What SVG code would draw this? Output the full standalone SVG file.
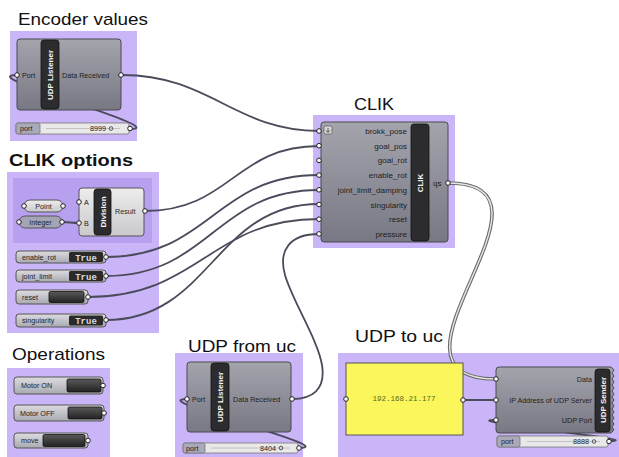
<svg xmlns="http://www.w3.org/2000/svg" width="619" height="457" viewBox="0 0 619 457">
<style>
.title{font-family:"Liberation Sans",Arial,sans-serif;font-size:17px;fill:#111}
.grp{fill:#c9b5f7}
.inner{fill:#b7a0f0}
.body{fill:url(#gBody);stroke:#4a4a52;stroke-width:1}
.lbody{fill:url(#gLight);stroke:#555;stroke-width:1}
.bar{fill:#2c2c2e;stroke:#111;stroke-width:0.8}
.bartxt{font-family:"Liberation Sans",Arial,sans-serif;font-size:8px;font-weight:bold;fill:#f2f2f2}
.lbl{font-family:"Liberation Sans",Arial,sans-serif;font-size:7.2px;fill:#1e1e1e}
.clbl{font-family:"Liberation Sans",Arial,sans-serif;font-size:8.1px;fill:#1e1e1e}
.port{fill:#fff;stroke:#222;stroke-width:1}
.wire{fill:none;stroke:#4b4b5c;stroke-width:1.8}
.dw1{fill:none;stroke:#6a6a6a;stroke-width:3.6}
.dw2{fill:none;stroke:#e6e6e6;stroke-width:1.4}
.sl{fill:#e9e9ea;stroke:#777;stroke-width:0.8}
.slp{fill:#a9a9b9;stroke:#777;stroke-width:0.8}
.tick{stroke:#b8b8b8;stroke-width:0.8}
.blk{fill:url(#gBlk);stroke:#111;stroke-width:0.8}
.mono{font-family:"Liberation Mono","Courier New",monospace;font-size:9px;font-weight:bold;fill:#d8d8d8}
</style>
<defs>
<linearGradient id="gBody" x1="0" y1="0" x2="0" y2="1"><stop offset="0" stop-color="#a4a4ad"/><stop offset="1" stop-color="#787884"/></linearGradient>
<linearGradient id="gLight" x1="0" y1="0" x2="0" y2="1"><stop offset="0" stop-color="#ededed"/><stop offset="1" stop-color="#c9c9cc"/></linearGradient>
<linearGradient id="gTog" x1="0" y1="0" x2="0" y2="1"><stop offset="0" stop-color="#dcdce0"/><stop offset="1" stop-color="#a9a9b2"/></linearGradient>
<linearGradient id="gBlk" x1="0" y1="0" x2="0" y2="1"><stop offset="0" stop-color="#5a5a5a"/><stop offset="1" stop-color="#222"/></linearGradient>
</defs>

<!-- group backgrounds and titles -->
<g id="grp-encoder">
<text class="title" x="18" y="25" textLength="130" lengthAdjust="spacingAndGlyphs">Encoder values</text>
<rect class="grp" x="10" y="31" width="127" height="110"/>
</g>
<g id="grp-clik">
<text class="title" x="354" y="110" textLength="40" lengthAdjust="spacingAndGlyphs">CLIK</text>
<rect class="grp" x="313" y="115" width="142" height="133"/>
</g>
<g id="grp-options">
<text class="title" x="9" y="166" font-weight="bold" textLength="124" lengthAdjust="spacingAndGlyphs">CLIK options</text>
<rect class="grp" x="7" y="172" width="152" height="161"/>
<rect class="inner" x="13" y="178" width="139" height="65"/>
</g>
<g id="grp-operations">
<text class="title" x="12" y="360" textLength="93" lengthAdjust="spacingAndGlyphs">Operations</text>
<rect class="grp" x="7" y="368" width="103" height="89"/>
</g>
<g id="grp-udpfrom">
<text class="title" x="188" y="352" textLength="108" lengthAdjust="spacingAndGlyphs">UDP from uc</text>
<rect class="grp" x="175" y="353" width="128" height="104"/>
</g>
<g id="grp-udpto">
<text class="title" x="355" y="342" textLength="88" lengthAdjust="spacingAndGlyphs">UDP to uc</text>
<rect class="grp" x="338" y="353" width="281" height="104"/>
</g>

<!-- connectors -->
<g id="connectors">
<path class="wire" d="M130,129 C175,129 -30,75 17,75"/>
<path class="wire" d="M299,448 C344,448 142,399 187,399"/>
<path class="wire" d="M609,441 C655,441 450,420 496,420"/>
<path class="wire" d="M122,75 C210,75 235,131 319,131"/>
<path class="wire" d="M145,211 C230,211 235,146 319,146"/>
<path class="wire" d="M106,257 C210,257 215,175 319,175"/>
<path class="wire" d="M106,276 C210,276 215,190 319,190"/>
<path class="wire" d="M88,297 C200,297 210,219 319,219"/>
<path class="wire" d="M106,320 C210,320 215,204 319,204"/>
<path class="wire" d="M319,234 C290,234 278,250 285,275 C292,300 318,340 322,365 C326,390 312,399 292,399"/>
<path class="wire" d="M62,222 C70,222 71,223 79,223"/>
<path class="wire" d="M463,400 L496,400"/>
<path class="dw1" d="M448,183 C580,183 360,379 496,379"/>
<path class="dw2" d="M448,183 C580,183 360,379 496,379"/>
</g>

<!-- Encoder UDP Listener -->
<g id="enc-listener">
<rect class="body" x="17" y="39" width="104" height="71" rx="3"/>
<rect class="bar" x="41" y="40" width="18" height="69" rx="3"/>
<text class="bartxt" transform="translate(53,75) rotate(-90)" text-anchor="middle">UDP Listener</text>
<text class="lbl" x="22" y="78">Port</text>
<text class="lbl" x="62" y="78">Data Received</text>
<circle class="port" cx="17" cy="75" r="2.3"/>
<circle class="port" cx="121" cy="75" r="2.3"/>
</g>
<g id="enc-port">
<rect class="sl" x="16" y="123" width="113" height="11" rx="2"/>
<rect class="slp" x="16" y="123" width="24" height="11" rx="2"/>
<text class="lbl" x="20" y="131">port</text>
<line class="tick" x1="46" y1="128.5" x2="120" y2="128.5"/>
<text class="lbl" x="106" y="131" text-anchor="end">8999</text>
<circle cx="111" cy="128.5" r="1.8" fill="none" stroke="#333" stroke-width="0.8"/>
<circle class="port" cx="130" cy="128.5" r="2.3"/>
</g>

<!-- CLIK -->
<g id="clik">
<rect class="body" x="321" y="122" width="127" height="120" rx="3"/>
<rect class="bar" x="411" y="124" width="18" height="117" rx="3"/>
<text class="bartxt" transform="translate(423,183) rotate(-90)" text-anchor="middle">CLIK</text>
<rect x="324" y="126" width="8" height="8" rx="1.5" fill="#d8d8dc" stroke="#555" stroke-width="0.7"/>
<path d="M328,128 L328,132 M326,130.5 L328,132.5 L330,130.5" fill="none" stroke="#333" stroke-width="0.8"/>
<g class="clbl" text-anchor="end">
<text x="407" y="134">brokk_pose</text>
<text x="407" y="148.7">goal_pos</text>
<text x="407" y="163.4">goal_rot</text>
<text x="407" y="178.1">enable_rot</text>
<text x="407" y="192.8">joint_limit_damping</text>
<text x="407" y="207.5">singularity</text>
<text x="407" y="222.2">reset</text>
<text x="407" y="236.9">pressure</text>
</g>
<text class="clbl" x="433" y="186">qs</text>
<circle class="port" cx="319" cy="131" r="2.3"/>
<circle class="port" cx="319" cy="145.7" r="2.3"/>
<circle class="port" cx="319" cy="160.4" r="2.3"/>
<circle class="port" cx="319" cy="175.1" r="2.3"/>
<circle class="port" cx="319" cy="189.8" r="2.3"/>
<circle class="port" cx="319" cy="204.5" r="2.3"/>
<circle class="port" cx="319" cy="219.2" r="2.3"/>
<circle class="port" cx="319" cy="233.9" r="2.3"/>
<circle class="port" cx="448" cy="183" r="2.3"/>
</g>

<!-- CLIK options -->
<g id="point">
<rect x="24" y="200" width="39" height="12" rx="6" fill="url(#gLight)" stroke="#555"/>
<text class="lbl" x="43.5" y="208.5" text-anchor="middle">Point</text>
<circle class="port" cx="24" cy="206" r="2.3"/>
<circle class="port" cx="63" cy="206" r="2.3"/>
</g>
<g id="integer">
<rect x="19" y="216" width="43" height="12" rx="6" fill="#a4a4b4" stroke="#555"/>
<text class="lbl" x="40.5" y="224.5" text-anchor="middle">Integer</text>
<circle class="port" cx="19" cy="222" r="2.3"/>
<circle class="port" cx="62" cy="222" r="2.3"/>
</g>
<g id="division">
<rect class="lbody" x="79" y="188" width="65" height="48" rx="3"/>
<rect class="bar" x="94" y="189" width="17" height="46" rx="3"/>
<text class="bartxt" transform="translate(105.5,212) rotate(-90)" text-anchor="middle">Division</text>
<text class="lbl" x="84" y="205">A</text>
<text class="lbl" x="84" y="226">B</text>
<text class="lbl" x="115" y="214">Result</text>
<circle class="port" cx="79" cy="202" r="2.3"/>
<circle class="port" cx="79" cy="223" r="2.3"/>
<circle class="port" cx="145" cy="211" r="2.3"/>
</g>
<g id="tog-enable">
<rect x="16" y="251" width="90" height="12" rx="3" fill="url(#gTog)" stroke="#555"/>
<text class="lbl" x="22" y="259.5">enable_rot</text>
<rect x="69" y="252" width="34" height="10" rx="1.5" fill="#2a2a2a"/>
<text class="mono" x="86" y="260.5" text-anchor="middle">True</text>
<circle class="port" cx="106" cy="257" r="2.3"/>
</g>
<g id="tog-joint">
<rect x="16" y="270" width="90" height="12" rx="3" fill="url(#gTog)" stroke="#555"/>
<text class="lbl" x="22" y="278.5">joint_limit</text>
<rect x="69" y="271" width="34" height="10" rx="1.5" fill="#2a2a2a"/>
<text class="mono" x="86" y="279.5" text-anchor="middle">True</text>
<circle class="port" cx="106" cy="276" r="2.3"/>
</g>
<g id="btn-reset">
<rect x="16" y="290" width="72" height="14" rx="3" fill="url(#gTog)" stroke="#555"/>
<text class="lbl" x="22" y="299.5">reset</text>
<rect class="blk" x="49" y="291.5" width="35" height="11" rx="1.5"/>
<circle class="port" cx="88" cy="297" r="2.3"/>
</g>
<g id="tog-singularity">
<rect x="16" y="314" width="90" height="13" rx="3" fill="url(#gTog)" stroke="#555"/>
<text class="lbl" x="22" y="323">singularity</text>
<rect x="69" y="315.5" width="34" height="10" rx="1.5" fill="#2a2a2a"/>
<text class="mono" x="86" y="324" text-anchor="middle">True</text>
<circle class="port" cx="106" cy="320" r="2.3"/>
</g>

<!-- Operations -->
<g id="btn-motor-on">
<rect x="14" y="377" width="89" height="17" rx="3" fill="url(#gTog)" stroke="#555"/>
<text class="lbl" x="21" y="388">Motor ON</text>
<rect class="blk" x="67" y="379" width="34" height="13" rx="1.5"/>
<circle class="port" cx="103" cy="385.5" r="2.3"/>
</g>
<g id="btn-motor-off">
<rect x="14" y="405" width="90" height="16" rx="3" fill="url(#gTog)" stroke="#555"/>
<text class="lbl" x="20" y="415.5">Motor OFF</text>
<rect class="blk" x="68" y="407" width="34" height="12" rx="1.5"/>
<circle class="port" cx="104" cy="413" r="2.3"/>
</g>
<g id="btn-move">
<rect x="14" y="433" width="74" height="15" rx="3" fill="url(#gTog)" stroke="#555"/>
<text class="lbl" x="21" y="443">move</text>
<rect class="blk" x="43" y="434.5" width="42" height="12" rx="1.5"/>
<circle class="port" cx="88" cy="440.5" r="2.3"/>
</g>

<!-- UDP from uc -->
<g id="from-listener">
<rect class="body" x="187" y="362" width="104" height="70" rx="3"/>
<rect class="bar" x="211" y="363" width="18" height="68" rx="3"/>
<text class="bartxt" transform="translate(223,397) rotate(-90)" text-anchor="middle">UDP Listener</text>
<text class="lbl" x="192" y="402">Port</text>
<text class="lbl" x="233" y="402">Data Received</text>
<circle class="port" cx="187" cy="399" r="2.3"/>
<circle class="port" cx="292" cy="399" r="2.3"/>
</g>
<g id="from-port">
<rect class="sl" x="183" y="443" width="115" height="10" rx="2"/>
<rect class="slp" x="183" y="443" width="22" height="10" rx="2"/>
<text class="lbl" x="186" y="450.5">port</text>
<line class="tick" x1="211" y1="448" x2="290" y2="448"/>
<text class="lbl" x="276" y="450.5" text-anchor="end">8404</text>
<circle cx="281" cy="448" r="1.8" fill="none" stroke="#333" stroke-width="0.8"/>
<circle class="port" cx="299" cy="448" r="2.3"/>
</g>

<!-- UDP to uc -->
<g id="ip-panel">
<rect x="346" y="363" width="117" height="72" fill="#faf65c" stroke="#555" stroke-width="1"/>
<text x="404" y="401" text-anchor="middle" font-family="Liberation Mono,Courier New,monospace" font-size="7.5" fill="#4f6a1c">192.168.21.177</text>
<circle class="port" cx="346" cy="399" r="2.3"/>
<circle class="port" cx="463" cy="400" r="2.3"/>
</g>
<g id="udp-sender">
<path class="body" d="M499,367 L611,367 L614,370 L612,373 L614,376 L612,379 L614,382 L612,385 L614,388 L612,391 L614,394 L612,397 L614,400 L612,403 L614,406 L612,409 L614,412 L612,415 L614,418 L612,421 L614,424 L612,427 L614,430 L611,433 L499,433 Q496,433 496,430 L496,370 Q496,367 499,367 Z"/>
<rect class="bar" x="595" y="369" width="15" height="63" rx="3"/>
<text class="bartxt" transform="translate(605.5,400) rotate(-90)" text-anchor="middle">UDP Sender</text>
<g class="lbl" text-anchor="end">
<text x="592" y="381.5">Data</text>
<text x="592" y="402.5">IP Address of UDP Server</text>
<text x="592" y="422.5">UDP Port</text>
</g>
<circle class="port" cx="496" cy="379" r="2.3"/>
<circle class="port" cx="496" cy="400" r="2.3"/>
<circle class="port" cx="496" cy="420" r="2.3"/>
</g>
<g id="to-port">
<rect class="sl" x="497" y="436" width="111" height="11" rx="2"/>
<rect class="slp" x="497" y="436" width="23" height="11" rx="2"/>
<text class="lbl" x="501" y="444">port</text>
<line class="tick" x1="527" y1="441.5" x2="600" y2="441.5"/>
<text class="lbl" x="589" y="444" text-anchor="end">8888</text>
<circle cx="594" cy="441.5" r="1.8" fill="none" stroke="#333" stroke-width="0.8"/>
<circle class="port" cx="609" cy="441.5" r="2.3"/>
</g>
</svg>
